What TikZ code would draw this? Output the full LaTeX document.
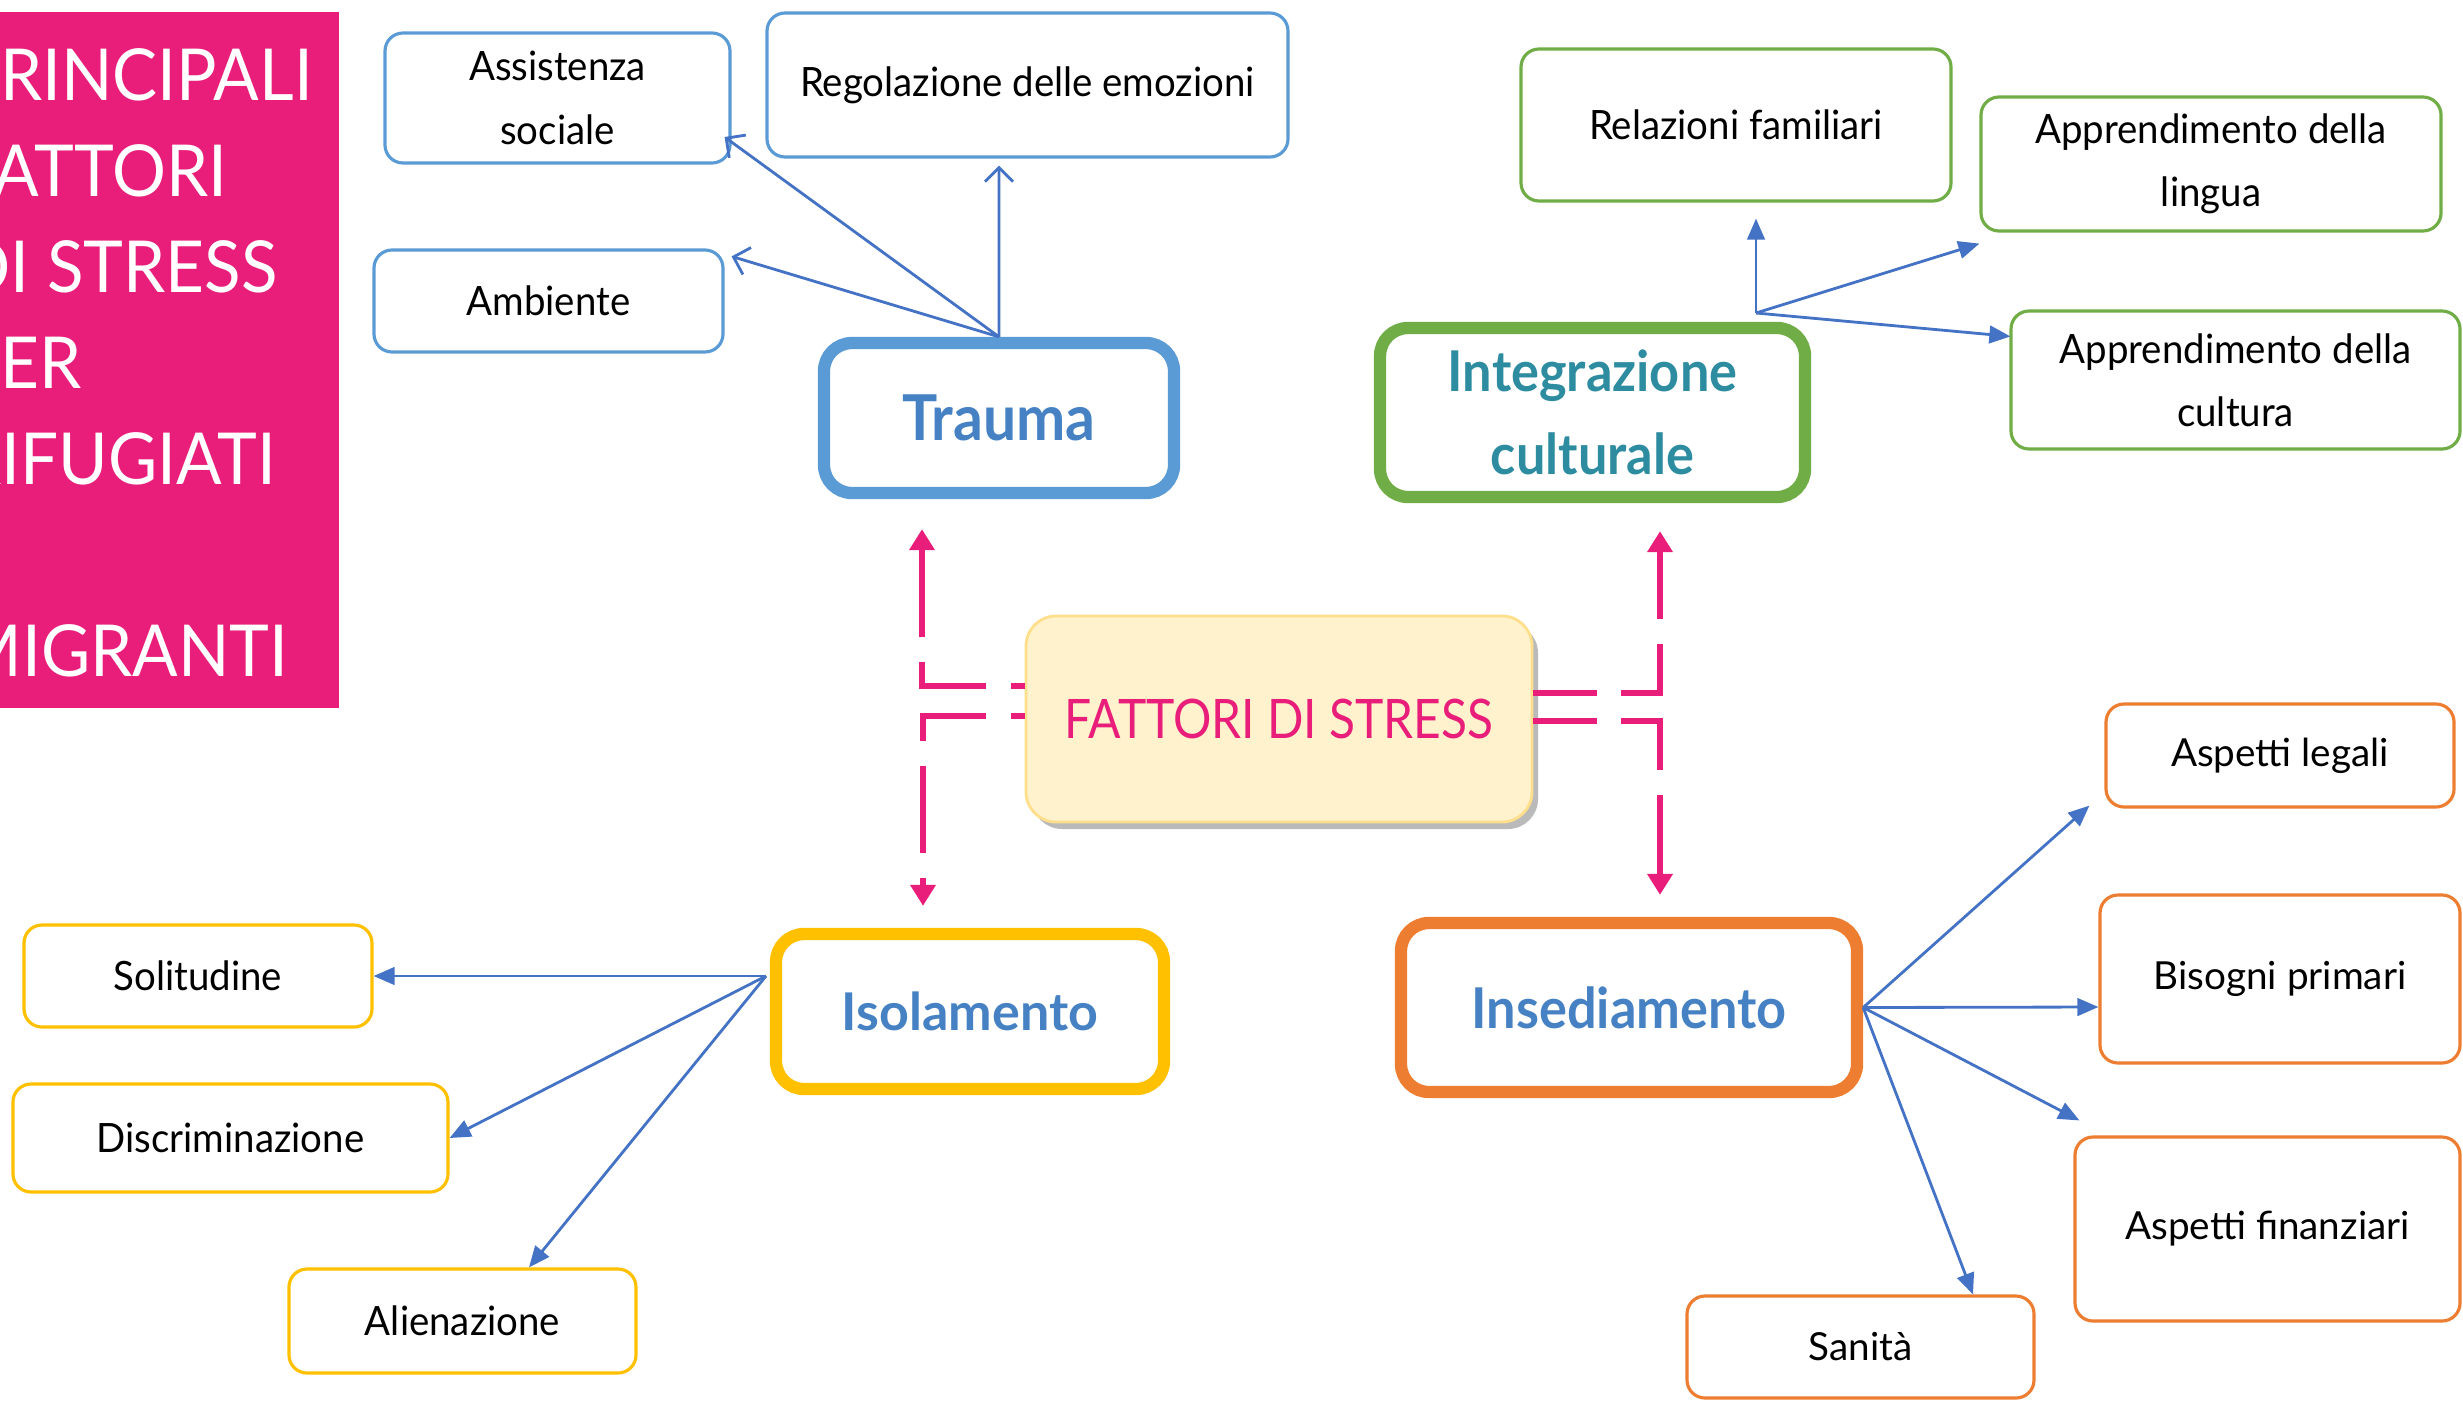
\documentclass[tikz,border=0pt]{standalone}
\usepackage{fontspec}
\setmainfont{Lato}
\newfontfamily\narrowfont{Lato}[FakeStretch=0.88]
\newfontfamily\leaffont{Lato}[FakeStretch=0.95]
\newfontfamily\topicfont{Lato}[FakeStretch=0.93]
\newfontfamily\titlefont{Lato}[FakeStretch=0.94]
\usetikzlibrary{arrows.meta}
\usetikzlibrary{shadows}
\definecolor{stresspink}{RGB}{233,30,122}
\definecolor{traumablue}{RGB}{91,155,213}
\definecolor{integgreen}{RGB}{112,173,71}
\definecolor{isolyellow}{RGB}{255,192,0}
\definecolor{insedorange}{RGB}{237,125,49}
\definecolor{linkblue}{RGB}{68,114,196}
\definecolor{ctrfill}{RGB}{255,242,204}
\definecolor{ctrdraw}{RGB}{255,222,140}
\definecolor{topictext}{RGB}{70,130,195}
\definecolor{integtext}{RGB}{45,140,160}
\tikzset{leaf/.style={draw, line width=0.9pt, rounded corners=0.18cm, align=center, inner sep=0pt,
   font=\leaffont\fontsize{11.5}{18}\selectfont},
 leafwide/.style={leaf, font=\fontsize{11}{16}\selectfont},
 topic/.style={draw, line width=3.5pt, rounded corners=0.28cm, align=center, inner sep=0pt,
   text=topictext, font=\topicfont\bfseries\fontsize{16}{23.6}\selectfont},
 link/.style={draw=linkblue, line width=0.8pt, -{Triangle[length=6pt,width=5pt]}},
 openlink/.style={draw=linkblue, line width=0.8pt, -{Straight Barb[length=4pt,width=8pt]}},
 dashlink/.style={draw=stresspink, line width=1.8pt, dash pattern=on 25pt off 7pt,
   -{Triangle[length=6pt,width=7pt]}},
 titletext/.style={anchor=base west, inner sep=0pt, text=white, font=\titlefont\fontsize{20.4}{27}\selectfont},
 }

\begin{document}
\begin{tikzpicture}
    \useasboundingbox (0,0) rectangle (24.63,-14);
    % title box, cut at the left edge
    \begin{scope}
        \clip (0,-0.12) rectangle (3.39,-7.08);
        \fill[stresspink] (0,-0.12) rectangle (3.39,-7.08);
        \foreach \w[count=\i] in {PRINCIPALI, FATTORI, DI STRESS, PER, RIFUGIATI, E, MIGRANTI} {
            \node[titletext] (t\i) at (-0.41, -1.005-0.96*\i+0.96) {\w};
        }
    \end{scope}

    % centre
    \node[draw=ctrdraw, line width=0.8pt, fill=ctrfill, rounded corners=0.3cm,
        minimum width=5.06cm, minimum height=2.06cm,
        drop shadow={shadow xshift=0.06cm, shadow yshift=-0.07cm, fill=black!45, opacity=0.6},
        text=stresspink, font=\narrowfont\fontsize{15.5}{20}\selectfont] (fattori) at (12.79,-7.19) {FATTORI DI STRESS};

    % topics
    \node[topic, draw=traumablue, minimum width=3.5cm, minimum height=1.5cm,
        font=\topicfont\bfseries\fontsize{18}{22}\selectfont] (trauma) at (9.99,-4.18) {Trauma};
    \node[topic, draw=integgreen, text=integtext, minimum width=4.25cm, minimum height=1.69cm] (integ) at (15.925,-4.125) {Integrazione\\culturale};
    \node[topic, draw=isolyellow, minimum width=3.88cm, minimum height=1.55cm,
        font=\bfseries\fontsize{14.8}{18}\selectfont] (isol) at (9.70,-10.115) {Isolamento};
    \node[topic, draw=insedorange, minimum width=4.56cm, minimum height=1.69cm] (insed) at (16.29,-10.075) {Insediamento};

    % trauma
    \node[leaf, draw=traumablue, minimum width=3.45cm, minimum height=1.30cm] (assist) at (5.575,-0.98) {Assistenza\\sociale};
    \node[leaf, draw=traumablue, minimum width=5.21cm, minimum height=1.44cm] (regol) at (10.275,-0.85) {Regolazione delle emozioni};
    \node[leaf, draw=traumablue, minimum width=3.49cm, minimum height=1.02cm] (ambiente) at (5.485,-3.01) {Ambiente};
    \draw[openlink] (trauma.north) -- ([shift={(-0.285,-0.07)}]regol.south);
    \draw[openlink] (trauma.north) -- ([shift={(-0.07,-0.39)}]assist.east);
    \draw[openlink] (trauma.north) -- ([shift={(0.07,-0.08)}]ambiente.north east);

    % integrazione
    \node[leaf, draw=integgreen, minimum width=4.30cm, minimum height=1.52cm] (relaz) at (17.36,-1.25) {Relazioni familiari};
    \node[leaf, draw=integgreen, minimum width=4.60cm, minimum height=1.34cm] (lingua) at (22.11,-1.64) {Apprendimento della\\lingua};
    \node[leaf, draw=integgreen, minimum width=4.49cm, minimum height=1.38cm] (cultura) at (22.355,-3.80) {Apprendimento della\\cultura};
    \coordinate (ghub) at (17.56,-3.13);
    \draw[link] (ghub) -- ([shift={(0.2,-0.16)}]relaz.south);
    \draw[link] (ghub) -- ([shift={(0,-0.11)}]lingua.south west);
    \draw[link] (ghub) -- ([shift={(0.01,-0.27)}]cultura.north west);

    % isolamento
    \node[leaf, draw=isolyellow, minimum width=3.48cm, minimum height=1.02cm] (solit) at (1.98,-9.76) {Solitudine};
    \node[leaf, draw=isolyellow, minimum width=4.35cm, minimum height=1.08cm] (discr) at (2.305,-11.38) {Discriminazione};
    \node[leaf, draw=isolyellow, minimum width=3.47cm, minimum height=1.04cm] (alien) at (4.625,-13.21) {Alienazione};
    \coordinate (yhub) at (7.66,-9.76);
    \draw[link] (yhub) -- (solit.east);
    \draw[link] (yhub) -- (discr.east);
    \draw[link] (yhub) -- ([shift={(0.665,0)}]alien.north);

    % insediamento
    \node[leafwide, draw=insedorange, minimum width=3.48cm, minimum height=1.03cm] (legali) at (22.80,-7.555) {Aspetti legali};
    \node[leafwide, draw=insedorange, minimum width=3.60cm, minimum height=1.68cm] (bisogni) at (22.80,-9.79) {Bisogni primari};
    \node[leafwide, draw=insedorange, minimum width=3.85cm, minimum height=1.84cm] (finanz) at (22.675,-12.29) {Aspetti finanziari};
    \node[leafwide, draw=insedorange, minimum width=3.47cm, minimum height=1.02cm] (sanita) at (18.605,-13.47) {Sanità};
    \draw[link] (insed.east) -- ([shift={(-0.15,0.03)}]legali.south west);
    \draw[link] (insed.east) -- ([shift={(0,-0.28)}]bisogni.west);
    \draw[link] (insed.east) -- ([shift={(0.06,0.15)}]finanz.north west);
    \draw[link] (insed.east) -- ([shift={(1.125,0)}]sanita.north);

    % centre to topics
    \draw[dashlink, dash phase=21pt] ([yshift=0.33cm]fattori.west) -| ([shift={(-0.77,-0.30)}]trauma.south);
    \draw[dashlink, dash phase=21pt] ([yshift=0.03cm]fattori.west) -| ([shift={(-0.47,0.22)}]isol.north);
    \draw[dashlink, dash phase=7pt] ([yshift=0.26cm]fattori.east) -| ([shift={(0.675,-0.28)}]integ.south);
    \draw[dashlink, dash phase=7pt] ([yshift=-0.02cm]fattori.east) -| ([shift={(0.31,0.22)}]insed.north);
\end{tikzpicture}
\end{document}
